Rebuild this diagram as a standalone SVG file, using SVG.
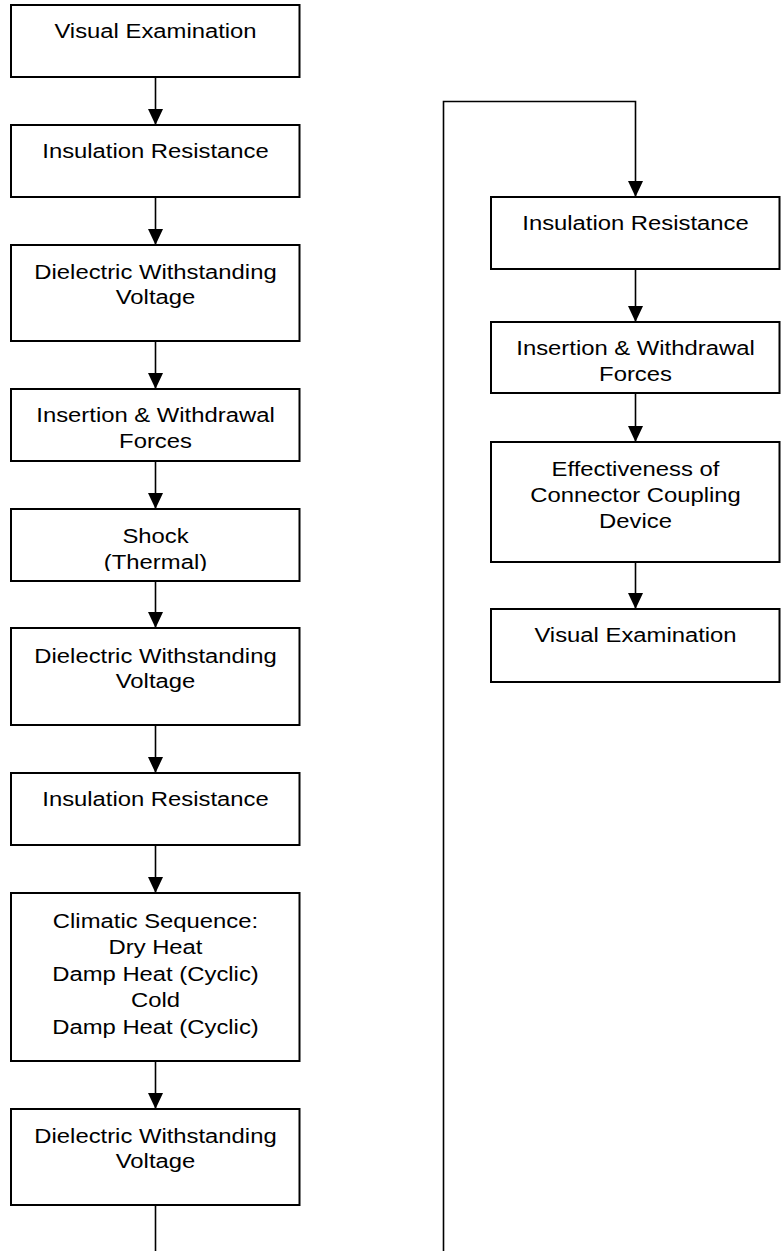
<svg xmlns="http://www.w3.org/2000/svg" width="781" height="1251" viewBox="0 0 781 1251">
<style>
.box{fill:#fff;stroke:#000;stroke-width:2}
.lbl{font-family:"Liberation Sans",Arial,sans-serif;font-size:21px;fill:#000;text-anchor:middle}
.con{fill:none;stroke:#000;stroke-width:1.6}
</style>
<defs>
<marker id="ah" viewBox="0 0 16 15" refX="16" refY="7.5" markerWidth="16" markerHeight="15" markerUnits="userSpaceOnUse" orient="auto">
<path d="M0,0 L16,7.5 L0,15 Z" fill="#000"/>
</marker>
<clipPath id="clipShock"><rect x="11" y="509" width="289" height="62"/></clipPath>
</defs>
<rect width="781" height="1251" fill="#fff"/>
<g id="connectors">
<path class="con" d="M155.5,77 V125" marker-end="url(#ah)"/>
<path class="con" d="M155.5,197 V245" marker-end="url(#ah)"/>
<path class="con" d="M155.5,341 V389" marker-end="url(#ah)"/>
<path class="con" d="M155.5,461 V509" marker-end="url(#ah)"/>
<path class="con" d="M155.5,581 V628" marker-end="url(#ah)"/>
<path class="con" d="M155.5,725 V773" marker-end="url(#ah)"/>
<path class="con" d="M155.5,845 V893" marker-end="url(#ah)"/>
<path class="con" d="M155.5,1061 V1109" marker-end="url(#ah)"/>
<path class="con" d="M155.5,1205 V1251"/>
<path class="con" stroke-width="2" d="M443.5,1251 V101.5 H635.5 V197" marker-end="url(#ah)"/>
<path class="con" d="M635.5,269 V322" marker-end="url(#ah)"/>
<path class="con" d="M635.5,393 V442" marker-end="url(#ah)"/>
<path class="con" d="M635.5,562 V609" marker-end="url(#ah)"/>
</g>
<g id="n1"><rect class="box" x="11" y="5" width="288.5" height="72"/>
<text class="lbl" transform="translate(155.5 38) scale(1.135 1)">Visual Examination</text></g>
<g id="n2"><rect class="box" x="11" y="125" width="288.5" height="72"/>
<text class="lbl" transform="translate(155.5 158) scale(1.135 1)">Insulation Resistance</text></g>
<g id="n3"><rect class="box" x="11" y="245" width="288.5" height="96"/>
<text class="lbl" transform="translate(155.5 279) scale(1.135 1)"><tspan x="0" y="0">Dielectric Withstanding</tspan><tspan x="0" y="25">Voltage</tspan></text></g>
<g id="n4"><rect class="box" x="11" y="389" width="288.5" height="72"/>
<text class="lbl" transform="translate(155.5 422) scale(1.135 1)"><tspan x="0" y="0">Insertion &amp; Withdrawal</tspan><tspan x="0" y="26.5">Forces</tspan></text></g>
<g id="n5"><rect class="box" x="11" y="509" width="288.5" height="72"/>
<g clip-path="url(#clipShock)"><text class="lbl" transform="translate(155.5 543) scale(1.135 1)"><tspan x="0" y="0">Shock</tspan><tspan x="0" y="26.5">(Thermal)</tspan></text></g></g>
<g id="n6"><rect class="box" x="11" y="628" width="288.5" height="97"/>
<text class="lbl" transform="translate(155.5 663) scale(1.135 1)"><tspan x="0" y="0">Dielectric Withstanding</tspan><tspan x="0" y="25.5">Voltage</tspan></text></g>
<g id="n7"><rect class="box" x="11" y="773" width="288.5" height="72"/>
<text class="lbl" transform="translate(155.5 806) scale(1.135 1)">Insulation Resistance</text></g>
<g id="n8"><rect class="box" x="11" y="893" width="288.5" height="168"/>
<text class="lbl" transform="translate(155.5 928) scale(1.135 1)"><tspan x="0" y="0">Climatic Sequence:</tspan><tspan x="0" y="26.5">Dry Heat</tspan><tspan x="0" y="53">Damp Heat (Cyclic)</tspan><tspan x="0" y="79.5">Cold</tspan><tspan x="0" y="106">Damp Heat (Cyclic)</tspan></text></g>
<g id="n9"><rect class="box" x="11" y="1109" width="288.5" height="96"/>
<text class="lbl" transform="translate(155.5 1143) scale(1.135 1)"><tspan x="0" y="0">Dielectric Withstanding</tspan><tspan x="0" y="25">Voltage</tspan></text></g>
<g id="r1"><rect class="box" x="491" y="197" width="288.5" height="72"/>
<text class="lbl" transform="translate(635.5 230) scale(1.135 1)">Insulation Resistance</text></g>
<g id="r2"><rect class="box" x="491" y="322" width="288.5" height="71"/>
<text class="lbl" transform="translate(635.5 355) scale(1.135 1)"><tspan x="0" y="0">Insertion &amp; Withdrawal</tspan><tspan x="0" y="26.5">Forces</tspan></text></g>
<g id="r3"><rect class="box" x="491" y="442" width="288.5" height="120"/>
<text class="lbl" transform="translate(635.5 476) scale(1.135 1)"><tspan x="0" y="0">Effectiveness of</tspan><tspan x="0" y="26.5">Connector Coupling</tspan><tspan x="0" y="52.5">Device</tspan></text></g>
<g id="r4"><rect class="box" x="491" y="609" width="288.5" height="73"/>
<text class="lbl" transform="translate(635.5 642) scale(1.135 1)">Visual Examination</text></g>
</svg>
